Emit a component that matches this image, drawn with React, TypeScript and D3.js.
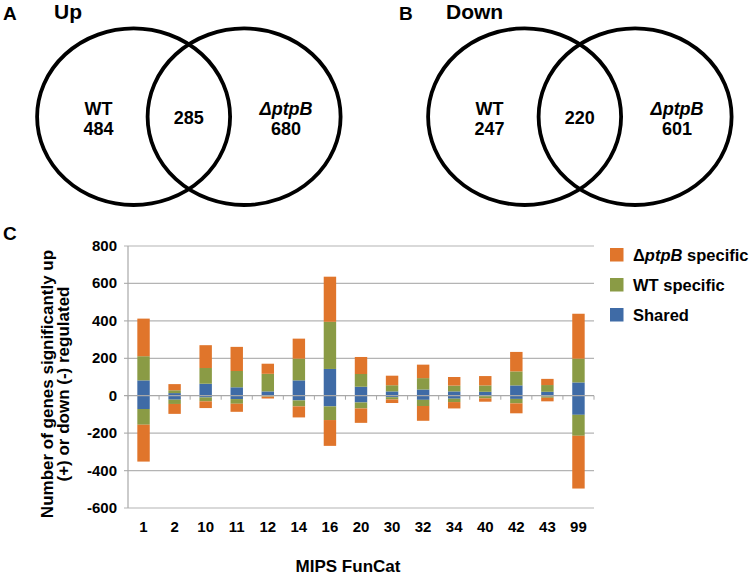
import * as d3 from 'd3'

// Venn counts (A = Up, B = Down)
const vennLetters = ['A', 'B']
const vennTitles = ['Up', 'Down']
const vennWT = [484, 247]
const vennShared = [285, 220]
const vennPtpB = [680, 601]

// MIPS FunCat bars
const categories = ['1', '2', '10', '11', '12', '14', '16', '20', '30', '32', '34', '40', '42', '43', '99']
const sharedUp = [82, 14, 64, 45, 23, 82, 143, 48, 23, 33, 23, 21, 55, 21, 71]
const wtUp = [129, 15, 84, 87, 94, 116, 252, 68, 33, 61, 31, 34, 75, 36, 127]
const ptpBUp = [201, 33, 122, 129, 54, 107, 241, 91, 51, 72, 46, 50, 104, 33, 240]
const sharedDown = [71, 21, 9, 18, 2, 25, 57, 36, 8, 22, 16, 2, 17, 4, 102]
const wtDown = [84, 23, 21, 25, 3, 32, 73, 32, 12, 33, 18, 12, 24, 7, 112]
const ptpBDown = [197, 53, 36, 43, 10, 59, 138, 77, 19, 79, 34, 18, 53, 19, 282]
const yTicks = [800, 600, 400, 200, 0, -200, -400, -600]

const keys = ['shared', 'wt', 'ptpB']
const colors = { shared: '#3F6BA6', wt: '#8A9B45', ptpB: '#E0752B' }
const font = '"Liberation Sans", Arial, sans-serif'

const Venn = ({ i, x0, letterX, titleX }) => {
  const cy = 116.7
  const rx = 96.5
  const ry = 88.3
  const left = x0 + 96.6
  const right = left + 110.5
  const mid = (left + right) / 2
  return (
    <g fontFamily={font} fontWeight="bold">
      <text x={letterX} y={20} fontSize={19}>{vennLetters[i]}</text>
      <text x={titleX} y={19} fontSize={21}>{vennTitles[i]}</text>
      <ellipse cx={left} cy={cy} rx={rx} ry={ry} fill="none" stroke="#000" strokeWidth={3.8} />
      <ellipse cx={right} cy={cy} rx={rx} ry={ry} fill="none" stroke="#000" strokeWidth={3.8} />
      <g fontSize={18} textAnchor="middle">
        <text x={left - 35} y={114.5}>WT</text>
        <text x={left - 35} y={134.5}>{vennWT[i]}</text>
        <text x={mid} y={123.5}>{vennShared[i]}</text>
        <text x={right + 42} y={114.5} fontStyle="italic">ΔptpB</text>
        <text x={right + 42} y={134.5}>{vennPtpB[i]}</text>
      </g>
    </g>
  )
}

export default function App() {
  const x = d3.scaleBand().domain(categories).range([128, 594]).paddingInner(0.6).paddingOuter(0.3)
  const y = d3.scaleLinear().domain([-600, 800]).range([508, 246])

  const upRows = categories.map((c, i) => ({ cat: c, shared: sharedUp[i], wt: wtUp[i], ptpB: ptpBUp[i] }))
  const downRows = categories.map((c, i) => ({ cat: c, shared: -sharedDown[i], wt: -wtDown[i], ptpB: -ptpBDown[i] }))
  const stack = d3.stack().keys(keys).offset(d3.stackOffsetDiverging)
  const upSeries = stack(upRows)
  const downSeries = stack(downRows)

  const step = x.step()
  const boundaries = d3.range(categories.length + 1).map((k) => 128 + k * step)

  const legend = [
    { key: 'ptpB', y: 255 },
    { key: 'wt', y: 285 },
    { key: 'shared', y: 315 },
  ]

  return (
    <svg width={752} height={575} style={{ position: 'absolute', left: 0, top: 0, background: '#fff' }}>
      <Venn i={0} x0={37} letterX={3} titleX={54} />
      <Venn i={1} x0={428} letterX={399} titleX={446} />

      <text x={3} y={240} fontFamily={font} fontWeight="bold" fontSize={19}>C</text>

      {/* gridlines */}
      {yTicks.filter((t) => t !== 0).map((t) => (
        <line key={t} x1={124} x2={594} y1={y(t)} y2={y(t)} stroke="#B4B4B4" strokeWidth={1.2} />
      ))}
      <line x1={128} x2={128} y1={y(800)} y2={y(-600)} stroke="#A8A8A8" strokeWidth={1.2} />

      {/* bars */}
      {[upSeries, downSeries].map((series, si) =>
        series.map((s) =>
          s.map((d) => (
            <rect
              key={`${si}-${s.key}-${d.data.cat}`}
              x={x(d.data.cat)}
              width={x.bandwidth()}
              y={y(Math.max(d[0], d[1]))}
              height={Math.abs(y(d[0]) - y(d[1]))}
              fill={colors[s.key]}
            />
          ))
        )
      )}

      {/* zero axis */}
      <line x1={124} x2={594} y1={y(0)} y2={y(0)} stroke="#A8A8A8" strokeWidth={1.2} />
      {boundaries.map((b, k) => (
        <line key={k} x1={b} x2={b} y1={y(0)} y2={y(0) + 4} stroke="#A8A8A8" strokeWidth={1} />
      ))}

      {/* y labels */}
      <g fontFamily={font} fontWeight="bold" fontSize={15} textAnchor="end">
        {yTicks.map((t) => (
          <text key={t} x={117} y={y(t) + 5}>{t}</text>
        ))}
      </g>

      {/* x labels */}
      <g fontFamily={font} fontWeight="bold" fontSize={15} textAnchor="middle">
        {categories.map((c) => (
          <text key={c} x={x(c) + x.bandwidth() / 2} y={532}>{c}</text>
        ))}
      </g>

      <text x={348} y={572} fontFamily={font} fontWeight="bold" fontSize={17} textAnchor="middle">MIPS FunCat</text>

      <g fontFamily={font} fontWeight="bold" fontSize={17} textAnchor="middle">
        <text transform="translate(52.7,384) rotate(-90)">Number of genes significantly up</text>
        <text transform="translate(69.3,384) rotate(-90)">(+) or down (-) regulated</text>
      </g>

      {/* legend */}
      <g fontFamily={font} fontWeight="bold" fontSize={16.5}>
        {legend.map((l) => (
          <g key={l.key}>
            <rect x={610} y={l.y - 7} width={13.5} height={13.5} fill={colors[l.key]} />
            <text x={633} y={l.y + 6}>
              {l.key === 'ptpB' && (
                <>
                  Δ<tspan fontStyle="italic">ptpB</tspan> specific
                </>
              )}
              {l.key === 'wt' && 'WT specific'}
              {l.key === 'shared' && 'Shared'}
            </text>
          </g>
        ))}
      </g>
    </svg>
  )
}
